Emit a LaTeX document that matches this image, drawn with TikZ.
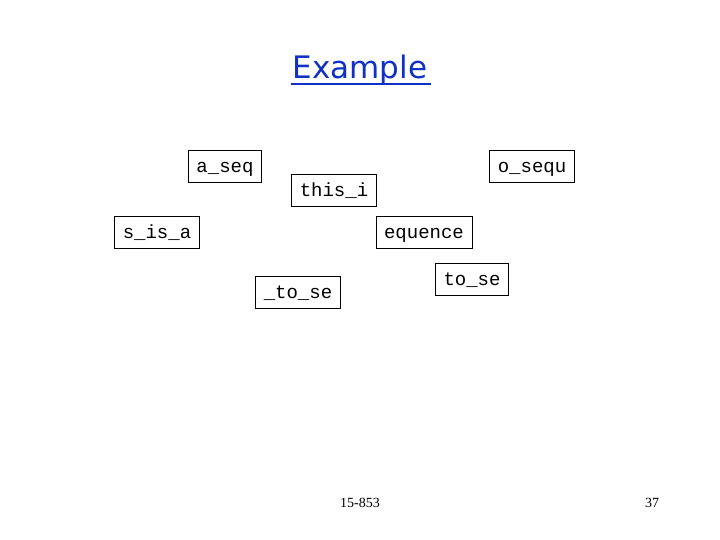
\documentclass[tikz,border=0pt]{standalone}
\usepackage{fontspec}
\usepackage{xcolor}
\setmainfont{Liberation Serif}
\newfontfamily\boxfont{Liberation Mono}
\newfontfamily\titlefont{DejaVu Sans}
\definecolor{titleblue}{RGB}{16,48,200}
\tikzset{
  piece/.style={draw, line width=0.8pt, font=\boxfont\fontsize{19}{19}\selectfont,
    inner xsep=8pt, inner ysep=2pt, text height=1.3em, text depth=0em, minimum height=32pt, anchor=center}
}

\begin{document}
\begin{tikzpicture}[x=1pt,y=-1pt]

% =====================
% Page frame (720 x 540)
% =====================
\useasboundingbox (0,0) rectangle (720,540);
\fill[white] (0,0) rectangle (720,540);

% =====================
% Title
% =====================
\node[text=titleblue, font=\titlefont\fontsize{31}{31}\selectfont] (Title) at (360,70) {Example};
\draw[titleblue, line width=2pt] ([yshift=-3pt]Title.base west) ++(2pt,-2pt) -- ([yshift=-5pt]Title.base east);

% =====================
% Pieces of the string
% =====================
\node[piece] (ASeq) at (225,166) {a\_seq};
\node[piece] (ThisI) at (334,190) {this\_i};
\node[piece] (OSequ) at (532,166) {o\_sequ};
\node[piece] (SIsA) at (157,232) {s\_is\_a};
\node[piece] (Equence) at (424,232) {equence};
\node[piece] (UToSe) at (298,292) {\_to\_se};
\node[piece] (ToSe) at (472,279) {to\_se};

% =====================
% Footer
% =====================
\node[font=\fontsize{14}{14}\selectfont] (Course) at (360,503) {15-853};
\node[font=\fontsize{14}{14}\selectfont] (Page) at (652,503) {37};
\end{tikzpicture}
\end{document}
